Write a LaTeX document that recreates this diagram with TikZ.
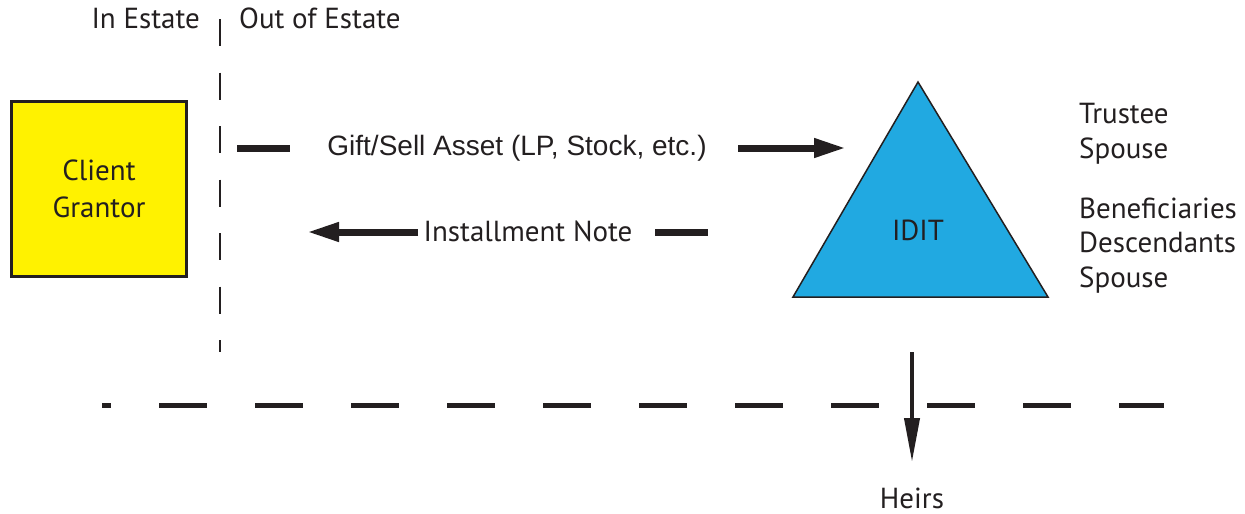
\documentclass[tikz,border=0pt]{standalone}
\usepackage{fontspec}
\setmainfont{PT Sans}
\newfontfamily\arialf{Liberation Sans}
\usetikzlibrary{arrows.meta}
\definecolor{ink}{HTML}{231F20}
\definecolor{clientyel}{HTML}{FFF200}
\definecolor{iditblue}{HTML}{21A9E1}
\tikzset{
  lbl/.style={font=\fontsize{29}{35}\selectfont, text=ink, inner sep=0pt},
  thick dash/.style={ink, line width=7pt},
  flowarrow/.style={ink, line width=7pt, -{Triangle[length=32pt,width=18pt]}},
}
\begin{document}
\begin{tikzpicture}[x=1pt,y=-1pt]
\useasboundingbox (0,0) rectangle (1245,514);
\fill[white] (0,0) rectangle (1245,514);

% estate divider
\coordinate (divtop) at (220,19);
\coordinate (divbot) at (220,352);
\draw[ink, line width=1.6pt, dash pattern=on 27pt off 26.5pt] (divtop) -- (divbot);
\node[lbl, anchor=base east] (inest) at (200,28) {In Estate};
\node[lbl, anchor=base west] (outest) at (239,28) {Out of Estate};

% client box
\node[draw=ink, line width=3pt, fill=clientyel, minimum width=175pt, minimum height=175pt,
      inner sep=0pt, align=center, font=\fontsize{29}{37}\selectfont, text=ink] (client) at (99,189) {Client\\Grantor};

% IDIT triangle
\coordinate (apex) at (918,82);
\coordinate (bright) at (1048,297);
\coordinate (bleft) at (793,297);
\draw[ink, line width=1.5pt, fill=iditblue, line join=miter] (apex) -- (bright) -- (bleft) -- cycle;
\node[lbl] (idit) at (918,230) {IDIT};

% gift arrow
\coordinate (g1) at (237,148);
\coordinate (g2) at (290,148);
\coordinate (g3) at (738,148);
\coordinate (g4) at (846,148);
\draw[thick dash] (g1) -- (g2);
\node[inner sep=0pt, font=\arialf\fontsize{28}{30}\selectfont, text=ink] (gift) at (517,148) {Gift/Sell Asset (LP, Stock, etc.)};
\draw[flowarrow] (g3) -- (g4);

% installment arrow
\coordinate (n1) at (418,232);
\coordinate (n2) at (307,232);
\coordinate (n3) at (655,232);
\coordinate (n4) at (708,232);
\draw[flowarrow] (n1) -- (n2);
\node[lbl] (note) at (528,231) {Installment Note};
\draw[thick dash] (n3) -- (n4);

% parties (base anchor = baseline of last line)
\node[lbl, anchor=base west, align=left] (trustee) at (1079,158) {Trustee\\Spouse};
\node[lbl, anchor=base west, align=left, font=\fontsize{29}{34.5}\selectfont] (benef) at (1079,287) {Beneficiaries\\Descendants\\Spouse};

% horizontal estate line
\coordinate (hl) at (102,405);
\coordinate (hr) at (1164,405);
\draw[ink, line width=5pt, dash pattern=on 48pt off 48pt, dash phase=39pt] (hl) -- (hr);

% heirs arrow
\coordinate (h1) at (912,352);
\coordinate (h2) at (912,462);
\draw[ink, line width=4pt, -{Triangle[length=44pt,width=15pt]}] (h1) -- (h2);
\node[lbl, anchor=base] (heirs) at (912,508) {Heirs};
\end{tikzpicture}
\end{document}
